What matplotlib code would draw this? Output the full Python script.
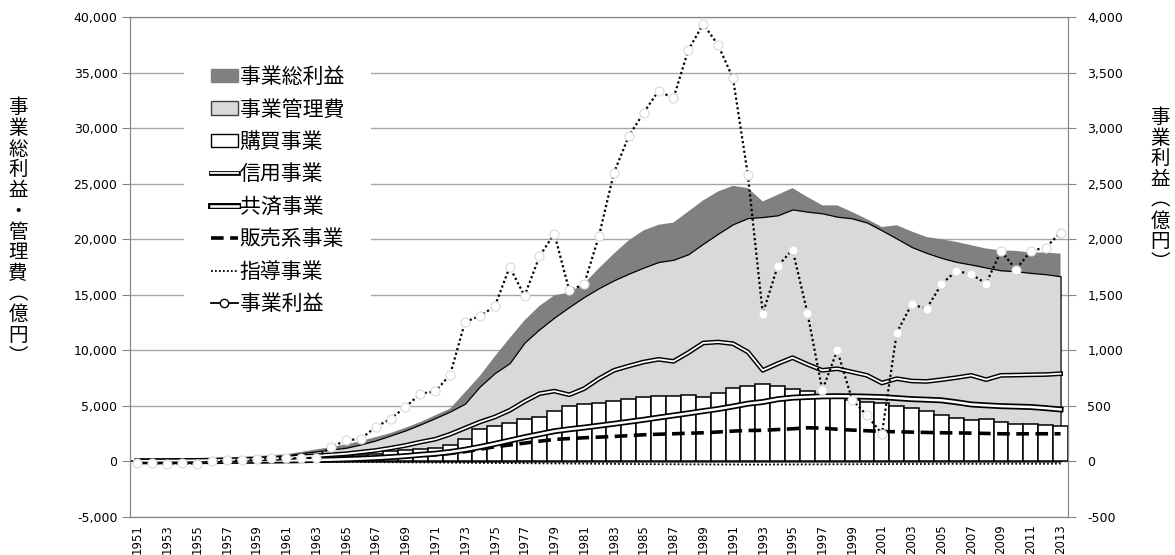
import numpy as np
import matplotlib
matplotlib.use("Agg")
import matplotlib.pyplot as plt
import matplotlib.patheffects as pe
from matplotlib.lines import Line2D
from matplotlib.patches import Patch

plt.rcParams['font.family'] = ['Noto Sans CJK JP', 'DejaVu Sans']

years = list(range(1951, 2014))

# 事業総利益 (億円)
gross = [150, 180, 210, 240, 280, 320, 370, 420, 480, 560,
         650, 850, 1080, 1290, 1530, 1830, 2190, 2550, 3030, 3540,
         4150, 4750, 6220, 7700, 9450, 11100, 12700, 14000, 14950, 15200,
         16000, 17400, 18700, 19900, 20800, 21300, 21500, 22500, 23500, 24300,
         24800, 24600, 23400, 24000, 24600, 23800, 23050, 23050, 22450, 21800,
         21100, 21260, 20700, 20200, 20000, 19760, 19460, 19160, 19000, 18950,
         18800, 18800, 18700]

# 事業管理費
cost = [100, 120, 150, 180, 210, 240, 280, 320, 380, 450,
        530, 750, 900, 1080, 1230, 1530, 1890, 2340, 2790, 3330,
        3900, 4500, 5200, 6750, 7950, 8850, 10700, 11900, 12950, 13900,
        14800, 15600, 16300, 16900, 17450, 17950, 18150, 18650, 19600, 20500,
        21350, 21900, 22000, 22150, 22680, 22480, 22330, 22030, 21880, 21500,
        20800, 20060, 19300, 18770, 18320, 17960, 17720, 17450, 17200, 17120,
        16970, 16850, 16670]

# 購買事業
purchase = [60, 70, 80, 90, 100, 110, 120, 130, 140, 150,
            160, 190, 240, 330, 450, 540, 690, 900, 1050, 1140,
            1240, 1440, 2060, 2880, 3160, 3480, 3840, 3990, 4500, 4950,
            5190, 5250, 5430, 5610, 5790, 5880, 5880, 5940, 5790, 6180,
            6600, 6780, 6980, 6820, 6550, 6330, 6000, 5940, 5550, 5340,
            5250, 4980, 4770, 4500, 4140, 3900, 3690, 3780, 3510, 3390,
            3330, 3300, 3210]

# 信用事業
credit = [50, 60, 70, 80, 100, 120, 140, 170, 210, 260,
          320, 450, 510, 600, 690, 840, 990, 1200, 1440, 1740,
          2000, 2450, 3000, 3550, 4000, 4600, 5400, 6100, 6330, 6000,
          6550, 7450, 8200, 8590, 8950, 9190, 9010, 9790, 10660, 10750,
          10600, 9850, 8200, 8800, 9340, 8740, 8200, 8350, 8050, 7750,
          7060, 7450, 7240, 7200, 7360, 7540, 7750, 7360, 7750, 7770,
          7800, 7820, 7900]

# 共済事業
mutual = [10, 12, 15, 20, 25, 30, 40, 50, 60, 75,
          90, 110, 130, 160, 200, 250, 310, 390, 480, 600,
          700, 850, 1050, 1300, 1580, 1880, 2180, 2450, 2720, 2900,
          3050, 3220, 3390, 3570, 3750, 3950, 4140, 4330, 4530, 4720,
          4950, 5200, 5350, 5600, 5740, 5800, 5860, 5870, 5860, 5830,
          5790, 5700, 5610, 5560, 5500, 5330, 5130, 5050, 4980, 4940,
          4900, 4800, 4680]

# 販売系事業
sales = [20, 25, 30, 35, 40, 50, 60, 70, 85, 100,
         120, 140, 170, 200, 240, 280, 330, 390, 450, 520,
         600, 720, 880, 1100, 1320, 1480, 1650, 1820, 1980, 2060,
         2130, 2190, 2250, 2320, 2400, 2450, 2490, 2540, 2580, 2650,
         2730, 2790, 2800, 2870, 2940, 3030, 3000, 2900, 2820, 2760,
         2700, 2670, 2640, 2610, 2580, 2570, 2550, 2520, 2490, 2480,
         2490, 2490, 2490]

# 指導事業
guidance = [-5, -5, -8, -8, -10, -10, -12, -15, -18, -20,
            -25, -30, -35, -40, -45, -50, -60, -70, -80, -90,
            -100, -110, -120, -130, -140, -150, -160, -170, -180, -190,
            -200, -210, -220, -230, -240, -250, -250, -260, -260, -270,
            -270, -280, -280, -270, -270, -260, -260, -250, -250, -240,
            -240, -230, -230, -230, -220, -220, -220, -220, -210, -210,
            -210, -210, -200]

# 事業利益 (右軸)
profit = [-12, -15, -21, -15, -21, 3, 9, 9, 21, 30,
          30, 30, 33, 129, 189, 204, 309, 384, 489, 610,
          630, 780, 1255, 1310, 1395, 1750, 1490, 1845, 2050, 1540,
          1595, 2030, 2597, 2928, 3138, 3336, 3268, 3703, 3937, 3748,
          3448, 2577, 1331, 1757, 1907, 1336, 640, 1000, 556, 414,
          249, 1159, 1414, 1375, 1595, 1715, 1685, 1601, 1895, 1727,
          1895, 1925, 2057]

x = np.arange(len(years))
grid_c = '#a6a6a6'
spine_c = '#868686'

fig = plt.figure(figsize=(11.75, 5.55), dpi=100)
ax = fig.add_axes([130/1175, 1-517/555, 938/1175, 500/555])

ax.fill_between(x, 0, gross, facecolor='#808080', lw=0, zorder=1)
ax.fill_between(x, 0, cost, facecolor='#d9d9d9', edgecolor='black', lw=0.9, zorder=2)
ax.bar(x, purchase, width=1.0, facecolor='white', edgecolor='black', lw=1.1, zorder=3)
ax.plot(x, guidance, color='black', ls=(0, (1, 1.2)), lw=1.3, zorder=4)
ax.plot(x, sales, color='black', ls=(0, (3.5, 1.8)), lw=2.6, zorder=5)
ax.plot(x, mutual, color='white', lw=1.8, zorder=5,
        path_effects=[pe.Stroke(linewidth=4.3, foreground='black'), pe.Normal()])
ax.plot(x, credit, color='white', lw=1.3, zorder=5,
        path_effects=[pe.Stroke(linewidth=3.4, foreground='black'), pe.Normal()])

ax.set_xlim(-0.5, len(years) - 0.5)
ax.set_ylim(-5000, 40000)
ax.set_yticks(np.arange(-5000, 40001, 5000))
ax.set_yticklabels([f"{v:,}" for v in range(-5000, 40001, 5000)],
                   family='DejaVu Sans', fontsize=9)
ax.set_xticks(x[::2])
ax.set_xticklabels([str(y) for y in years[::2]], rotation=90,
                   family='DejaVu Sans', fontsize=8.5)
ax.tick_params(axis='x', length=0, pad=5)
ax.tick_params(axis='y', length=6, color=spine_c, pad=3)
ax.yaxis.grid(True, color=grid_c, lw=1)
ax.set_axisbelow(True)
for s in ax.spines.values():
    s.set_color(spine_c)
ax.spines['top'].set_color('#6e6e6e')

ax2 = ax.twinx()
ax2.plot(x, profit, color='black', ls=(0, (1, 1.2)), lw=1.6, marker='o', ms=6.5,
         mfc='white', mec='#dadada', mew=0.8, zorder=6)
ax2.set_ylim(-500, 4000)
ax2.set_yticks(np.arange(-500, 4001, 500))
ax2.set_yticklabels([f"{v:,}" for v in range(-500, 4001, 500)],
                    family='DejaVu Sans', fontsize=9)
ax2.tick_params(axis='y', length=6, color=spine_c, pad=8)
for s in ax2.spines.values():
    s.set_color(spine_c)

handles = [
    Patch(facecolor='#808080', edgecolor='#808080'),
    Patch(facecolor='#d9d9d9', edgecolor='#404040'),
    Patch(facecolor='white', edgecolor='black'),
    Line2D([], [], color='white', lw=1.3,
           path_effects=[pe.Stroke(linewidth=3.4, foreground='black'), pe.Normal()]),
    Line2D([], [], color='white', lw=1.8,
           path_effects=[pe.Stroke(linewidth=4.3, foreground='black'), pe.Normal()]),
    Line2D([], [], color='black', ls=(0, (3.5, 1.8)), lw=2.6),
    Line2D([], [], color='black', ls=(0, (1, 1.2)), lw=1.3),
    Line2D([], [], color='black', lw=1.3, marker='o', ms=6, mfc='white', mec='black'),
]
labels = ['事業総利益', '事業管理費', '購買事業', '信用事業', '共済事業',
          '販売系事業', '指導事業', '事業利益']
leg = ax2.legend(handles, labels, loc='upper left', bbox_to_anchor=(0.046, 0.977),
                 fontsize=15, frameon=True, facecolor='white', edgecolor='none',
                 framealpha=1, fancybox=False, handlelength=1.3, handleheight=0.6,
                 handletextpad=0.1, labelspacing=0.5, borderpad=1.3)

fig.text(18/1175, 1-232/555, "\n".join("事業総利益・管理費︵億円︶"), ha='center',
         va='center', fontsize=14, linespacing=0.98)
fig.text(1160/1175, 1-190/555, "\n".join("事業利益︵億円︶"), ha='center',
         va='center', fontsize=14, linespacing=0.98)

fig.savefig("out.png", dpi=100)
